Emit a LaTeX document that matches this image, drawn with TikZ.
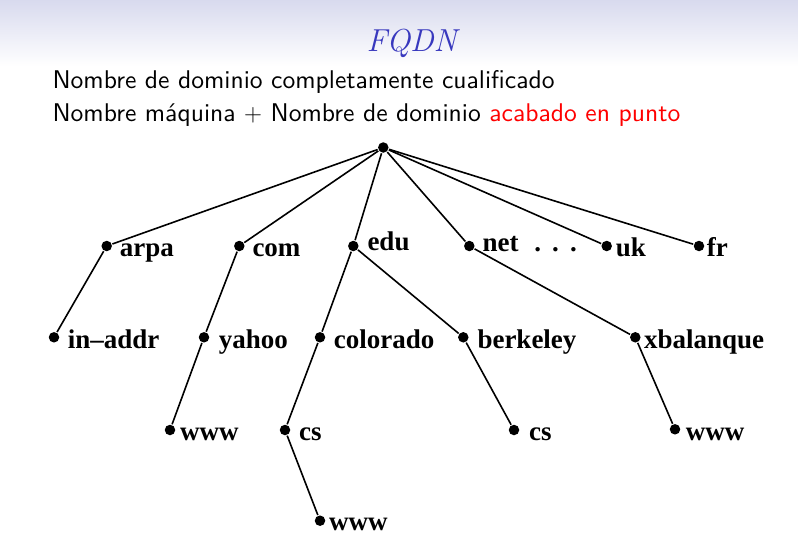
\documentclass[tikz,border=0pt]{standalone}
\usepackage{fontspec}
\newfontfamily\treefont[Ligatures=TeX]{Liberation Serif}
\newfontfamily\bodysans[Extension=.otf]{lmsans10-regular}
\definecolor{titleblue}{RGB}{56,56,190}
\definecolor{shadetop}{RGB}{216,218,238}
\tikzset{
  dom/.style={circle, fill=black, inner sep=0pt, minimum size=10.5pt},
  lab/.style={anchor=base west, inner sep=0pt, font=\treefont\bfseries\fontsize{27}{27}\selectfont},
  txt/.style={anchor=base west, inner sep=0pt, font=\bodysans\fontsize{25.6}{30}\selectfont},
}
\begin{document}
\begin{tikzpicture}[x=1pt, y=-1pt, line width=1.6pt]
  \useasboundingbox (0,0) rectangle (798,546);
  \shade[top color=shadetop, bottom color=white, draw=none] (0,0) rectangle (798,66);
  \node (title) [anchor=base, inner sep=0pt, text=titleblue, font=\itshape\fontsize{31.8}{36}\selectfont] at (411.7,51.7) {FQDN};
  \node (line1) [txt] at (51.7,88.3) {Nombre de dominio completamente cualificado};
  \node (line2) [txt] at (51.7,121.7) {Nombre máquina $+$ Nombre de dominio \textcolor{red}{acabado en punto}};
  % dots of the tree
  \node (root) [dom] at (383.3,147.5) {};
  \node (arpa) [dom] at (106.7,246) {};
  \node (com) [dom] at (239.3,246) {};
  \node (edu) [dom] at (353.3,246) {};
  \node (net) [dom] at (469.3,246) {};
  \node (uk) [dom] at (606.7,246) {};
  \node (fr) [dom] at (699,246) {};
  \node (inaddr) [dom] at (54,337.3) {};
  \node (yahoo) [dom] at (204,337.3) {};
  \node (colorado) [dom] at (320,337.3) {};
  \node (berkeley) [dom] at (463.3,337.3) {};
  \node (xbal) [dom] at (635.3,337.3) {};
  \node (www1) [dom] at (170,430) {};
  \node (cs1) [dom] at (285,430) {};
  \node (cs2) [dom] at (514,430) {};
  \node (www3) [dom] at (675,429.3) {};
  \node (www2) [dom] at (320,520.7) {};
  % labels
  \node (l-arpa) [lab] at (119,256.7) {arpa};
  \node (l-com) [lab] at (251.7,256.7) {com};
  \node (l-edu) [lab] at (366.7,250.7) {edu};
  \node (l-net) [lab] at (481.7,251.7) {net};
  \node (l-more) [lab] at (533.5,251.7) {.\hspace{11.2pt}.\hspace{11.2pt}.};
  \node (l-uk) [lab] at (615,256.7) {uk};
  \node (l-fr) [lab] at (706,256.7) {fr};
  \node (l-inaddr) [lab] at (67,348) {in--addr};
  \node (l-yahoo) [lab] at (218,348) {yahoo};
  \node (l-colorado) [lab] at (333,348) {colorado};
  \node (l-berkeley) [lab] at (476.7,348) {berkeley};
  \node (l-xbal) [lab] at (643.3,348) {xbalanque};
  \node (l-www1) [lab] at (179.3,440.7) {www};
  \node (l-cs1) [lab] at (298.3,440.7) {cs};
  \node (l-cs2) [lab] at (528.3,440.7) {cs};
  \node (l-www3) [lab] at (685,440.7) {www};
  \node (l-www2) [lab] at (328.3,530.7) {www};
  \path[draw]
  (root) edge (arpa) edge (com) edge (edu) edge (net) edge (uk) edge (fr)
  (arpa) edge (inaddr)
  (com) edge (yahoo)
  (yahoo) edge (www1)
  (edu) edge (colorado) edge (berkeley)
  (colorado) edge (cs1)
  (cs1) edge (www2)
  (berkeley) edge (cs2)
  (net) edge (xbal)
  (xbal) edge (www3)
  ;
\end{tikzpicture}
\end{document}
